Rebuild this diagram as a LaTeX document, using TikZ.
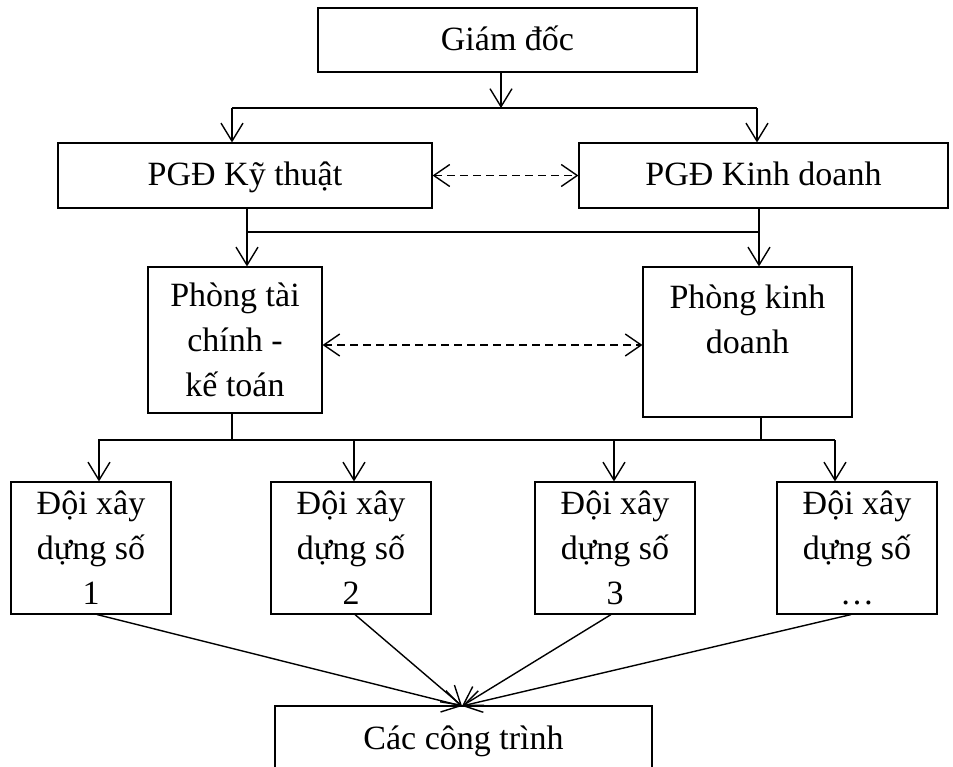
\documentclass[tikz,border=0pt]{standalone}
\usepackage{fontspec}
\setmainfont{Liberation Serif}
\usetikzlibrary{arrows.meta}
\tikzset{every picture/.style={line join=miter}}

\begin{document}
\begin{tikzpicture}[x=1pt,y=-1pt,
    unit/.style={draw,line width=1.1pt,align=center,inner sep=0pt,
        font=\fontsize{34}{45}\selectfont},
    oneline/.style={text height=26pt,text depth=6pt},
    link/.style={line width=1.4pt},
    arr/.style={link,-{Straight Barb[length=18pt,width=22pt,line width=1.4pt]}},
    darr/.style={link,dash pattern=on 8pt off 5pt,
        {Straight Barb[length=16pt,width=22pt,line width=1.4pt]}-{Straight Barb[length=16pt,width=22pt,line width=1.4pt]}}]
    \useasboundingbox (0,0) rectangle (953,766);
    \clip (0,0) rectangle (953,766);
    \node[unit,oneline,minimum width=379pt,minimum height=64pt] (gd) at (507.5,40) {Giám đốc};
    \node[unit,oneline,minimum width=374pt,minimum height=65pt] (kt) at (245,175.5) {PGĐ Kỹ thuật};
    \node[unit,oneline,minimum width=369pt,minimum height=65pt] (kd) at (763.5,175.5) {PGĐ Kinh doanh};
    \node[unit,minimum width=174pt,minimum height=146pt] (tc) at (235,340) {Phòng tài\\chính -\\kế toán};
    \node[unit,minimum width=209pt,minimum height=150pt] (pkd) at (747.5,342) {Phòng kinh\\doanh\\~};
    \foreach \i/\x/\t in {1/91/1,2/351/2,3/615/3,4/857/\dots}
        \node[unit,minimum width=160pt,minimum height=132pt] (d\i) at (\x,548) {Đội xây\\dựng số\\\t};
    \node[unit,oneline,minimum width=377pt,minimum height=66pt] (ct) at (463.5,739) {Các công trình};

    \coordinate (b1m) at (501,108);
    \coordinate (b1l) at (232,108);
    \coordinate (b1r) at (757,108);
    \draw[arr] (gd.south -| b1m) -- (b1m);
    \draw[link] (b1l) -- (b1r);
    \draw[arr] (b1l) -- (b1l |- kt.north);
    \draw[arr] (b1r) -- (b1r |- kd.north);
    \draw[darr] (kt.east) -- (kd.west);

    \coordinate (b2l) at (247,232);
    \coordinate (b2r) at (759,232);
    \draw[arr] (kt.south -| b2l) -- (b2l |- tc.north);
    \draw[arr] (kd.south -| b2r) -- (b2r |- pkd.north);
    \draw[link] (b2l) -- (b2r);
    \draw[darr] ([yshift=-5pt]tc.east) -- ([yshift=-5pt]tc.east -| pkd.west);

    \coordinate (b3a) at (232,440);
    \coordinate (b3b) at (761,440);
    \draw[link] (tc.south -| b3a) -- (b3a);
    \draw[link] (pkd.south -| b3b) -- (b3b);
    \draw[link] (98,440) -- (835,440);
    \foreach \i/\x in {1/99,2/354,3/614,4/835}{
        \coordinate (t\i) at (\x,440);
        \draw[arr] (t\i) -- (t\i |- d\i.north);
    }

    \coordinate (cv) at (462,706);
    \foreach \i/\s in {1/6,2/4,3/-4,4/-6}
        \draw[arr] ([xshift=\s pt]d\i.south) -- (cv);
\end{tikzpicture}
\end{document}
